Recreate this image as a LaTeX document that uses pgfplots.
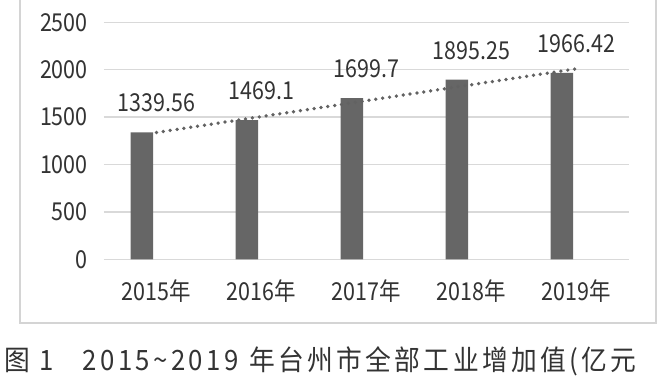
\documentclass[border=0pt]{standalone}
\usepackage{pgfplots}
\pgfplotsset{compat=1.18}
\usepackage{fontspec}
\setmainfont{Noto Sans CJK SC}[FakeStretch=0.87]
\newfontfamily\capfont{Noto Sans CJK SC}[LetterSpace=12, FakeStretch=0.92]
\definecolor{barc}{HTML}{666666}
\definecolor{gridc}{HTML}{D9D9D9}
\definecolor{framec}{HTML}{D4D4D4}
\definecolor{txt}{HTML}{333333}
\definecolor{trendc}{HTML}{626262}
\begin{document}
\begin{tikzpicture}[x=0.75pt,y=0.75pt]
\fill[white] (0,0) rectangle (667,375);
\begin{scope}
\clip (0,0) rectangle (667,375);
\draw[color=framec, line width=1.1pt] (20,52) rectangle (656,390);
\begin{axis}[
  at={(99,122)}, anchor=south west,
  scale only axis, width=393.75pt, height=177.75pt,
  xmin=-0.5, xmax=4.5, ymin=0, ymax=2500,
  axis line style={draw=none},
  ytick={0,500,1000,1500,2000,2500},
  yticklabels={0,500,1000,1500,2000,2500},
  xtick={0,1,2,3,4},
  xticklabels={2015年,2016年,2017年,2018年,2019年},
  major tick length=0pt,
  ymajorgrids,
  grid style={color=gridc, line width=1.1pt},
  tick label style={font=\fontsize{18.5}{20}\selectfont, text=txt},
  yticklabel style={inner sep=0pt, anchor=east, xshift=-12pt},
  xticklabel style={inner sep=0pt, anchor=base, yshift=-30.75pt},
  clip=false,
]
\addplot[ybar, bar width=16.9pt, bar shift=-10.9pt, fill=barc, draw=none,
  point meta=explicit symbolic, nodes near coords,
  every node near coord/.append style={anchor=base, inner sep=0pt, yshift=15.5pt,
    font=\fontsize{18.5}{20}\selectfont, text=txt}]
  coordinates {(0,1339.56)[1339.56] (1,1469.1)[1469.1] (2,1699.7)[1699.7] (3,1895.25)[1895.25] (4,1966.42)[1966.42]};
\addplot[trendc, line width=2.8pt, dash pattern=on 0pt off 5.2pt, line cap=round]
  coordinates {(0,1338.03) (4,2009.98)};
\end{axis}
\node[anchor=base west, inner sep=0pt, text=txt] at (4,5)
  {\capfont\fontsize{21}{24}\selectfont 图\hspace{7pt}1\hspace{22pt}2015\textasciitilde 2019\hspace{8pt}年台州市全部工业增加值(亿元};
\end{scope}
\pgfresetboundingbox
\path[use as bounding box] (0,0) rectangle (667,375);
\end{tikzpicture}
\end{document}
